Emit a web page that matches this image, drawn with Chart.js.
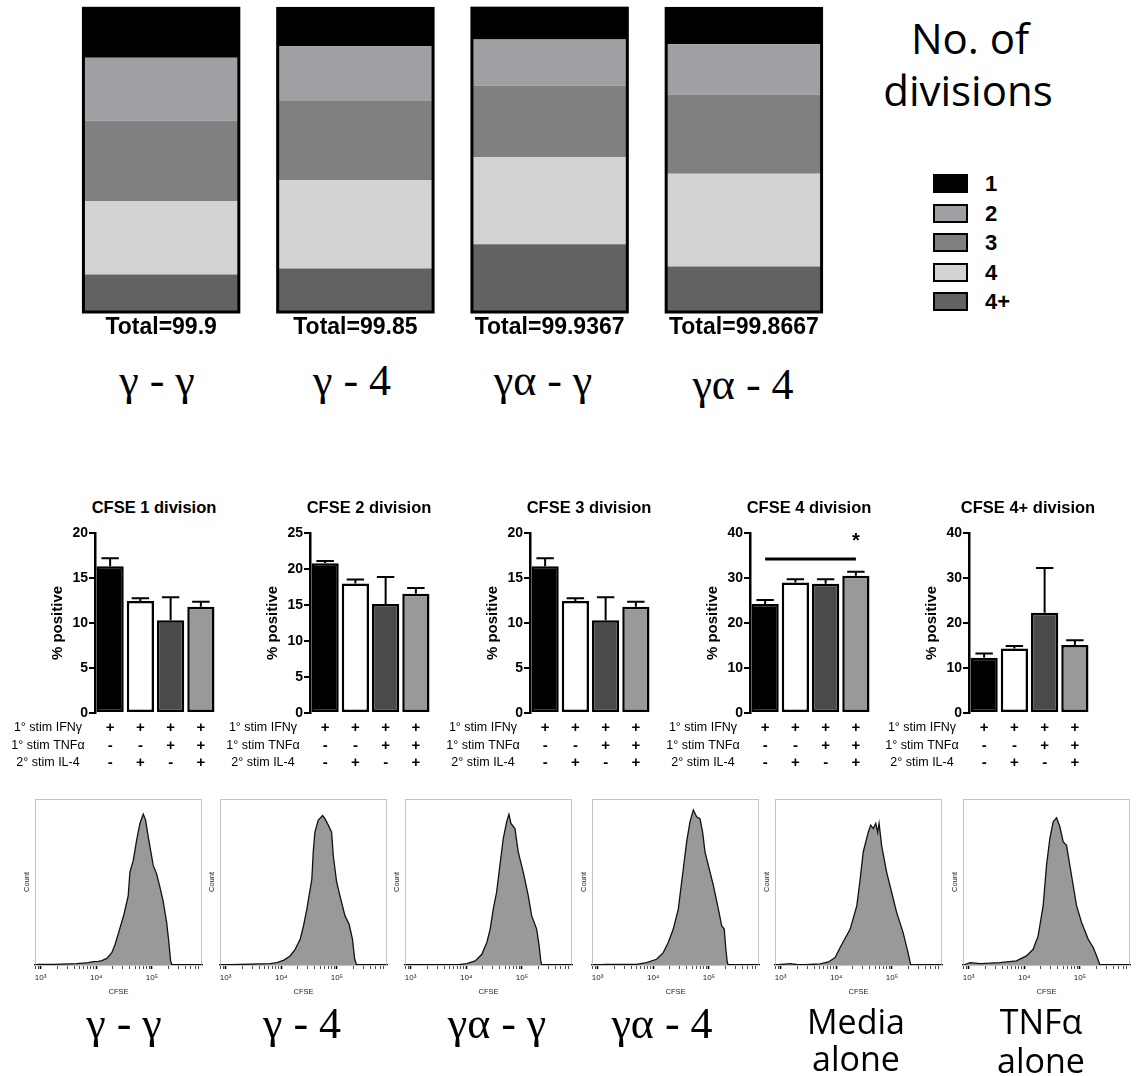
<!DOCTYPE html>
<html><head><meta charset="utf-8">
<script src="https://cdn.jsdelivr.net/npm/chart.js@4.4.1/dist/chart.umd.min.js"></script>
<style>
html,body{margin:0;padding:0;background:#fff;width:1136px;height:1076px;overflow:hidden;}
body{position:relative;font-family:Arial,"Liberation Sans",sans-serif;color:#000;}
canvas{position:absolute;display:block;}
.t{position:absolute;white-space:nowrap;transform:translate(-50%,-50%);line-height:1;}
.greek{font-family:"Liberation Serif","DejaVu Serif",serif;font-size:44px;}
.sans{font-family:"Open Sans",sans-serif;font-size:34px;}
.ttl{font-weight:bold;font-size:16.5px;}
.leg{position:absolute;left:933px;width:31px;height:15px;border:2px solid #000;}
.legt{position:absolute;left:985px;font-weight:bold;font-size:22px;line-height:1;}
</style></head><body>

<canvas id="stack" width="860" height="350" style="left:0;top:0"></canvas>

<div class="t" style="left:970px;top:38px;font-family:'Open Sans',sans-serif;font-size:42px;">No. of</div>
<div class="t" style="left:968px;top:90px;font-family:'Open Sans',sans-serif;font-size:42px;">divisions</div>
<div id="legend"></div>

<div class="t greek" style="left:157px;top:381px;">γ - γ</div>
<div class="t greek" style="left:352px;top:381px;">γ - 4</div>
<div class="t greek" style="left:543px;top:381px;">γα - γ</div>
<div class="t greek" style="left:743px;top:385px;">γα - 4</div>

<canvas id="c1" width="225" height="260"></canvas>
<canvas id="c2" width="225" height="260"></canvas>
<canvas id="c3" width="225" height="260"></canvas>
<canvas id="c4" width="225" height="260"></canvas>
<canvas id="c5" width="225" height="260"></canvas>
<div id="mtitles"></div>

<canvas id="h1" width="190" height="215"></canvas>
<canvas id="h2" width="190" height="215"></canvas>
<canvas id="h3" width="190" height="215"></canvas>
<canvas id="h4" width="190" height="215"></canvas>
<canvas id="h5" width="190" height="215"></canvas>
<canvas id="h6" width="190" height="215"></canvas>

<div class="t greek" style="left:124px;top:1024px;">γ - γ</div>
<div class="t greek" style="left:302px;top:1024px;">γ - 4</div>
<div class="t greek" style="left:497px;top:1024px;">γα - γ</div>
<div class="t greek" style="left:662px;top:1024px;">γα - 4</div>
<div class="t sans" style="left:856px;top:1021px;">Media</div>
<div class="t sans" style="left:856px;top:1058px;">alone</div>
<div class="t sans" style="left:1041px;top:1021px;">TNFα</div>
<div class="t sans" style="left:1041px;top:1060px;">alone</div>

<script>
// ---------- Top: stacked composition ----------
const groups = ['γ - γ', 'γ - 4', 'γα - γ', 'γα - 4'];
const divisionLabels = ['1', '2', '3', '4', '4+'];
const div1 = [16.3, 12.45, 10.3, 11.8];
const div2 = [20.7, 18.0, 15.15, 16.5];
const div3 = [26.4, 26.05, 23.5, 26.05];
const div4 = [24.2, 29.0, 28.7, 30.5];
const div4p = [12.3, 14.35, 22.3, 15.0];
const totals = ['99.9', '99.85', '99.9367', '99.8667'];
const divisionColors = ['#000000', '#a0a0a4', '#808080', '#d3d3d3', '#626262'];

// ---------- Middle: % positive per division ----------
const conditions = ['A', 'B', 'C', 'D'];
const cfse1Mean = [16.3, 12.45, 10.3, 11.8];
const cfse1Err = [0.9, 0.3, 2.55, 0.55];
const cfse2Mean = [20.8, 18.0, 15.15, 16.55];
const cfse2Err = [0.3, 0.55, 3.75, 0.8];
const cfse3Mean = [16.3, 12.45, 10.3, 11.8];
const cfse3Err = [0.9, 0.3, 2.55, 0.55];
const cfse4Mean = [24.2, 29.0, 28.7, 30.5];
const cfse4Err = [0.9, 0.7, 1.0, 0.9];
const cfse4pMean = [12.3, 14.35, 22.3, 15.1];
const cfse4pErr = [0.9, 0.55, 9.9, 1.05];
const ifnRow = ['+', '+', '+', '+'];
const tnfRow = ['-', '-', '+', '+'];
const il4Row = ['-', '+', '-', '+'];
const rowNames = ['1° stim IFNγ', '1° stim TNFα', '2° stim IL-4'];
const barColors = ['#000000', '#ffffff', '#4a4a4a', '#999999'];

// ---------- Bottom: CFSE histograms (x in log10 CFSE, y in % of max) ----------
const histDecades = [3, 4, 5];
const histDecadeLabels = ['10³', '10⁴', '10⁵'];
const hist1X = [2.91, 2.96, 3.23, 3.65, 3.86, 3.95, 4.04, 4.10, 4.19, 4.28, 4.34, 4.43, 4.50, 4.575, 4.605, 4.665, 4.726, 4.785, 4.845, 4.887, 4.934, 5.024, 5.085, 5.144, 5.20, 5.265, 5.305, 5.336, 5.36, 5.89];
const hist1Y = [0, 0.4, 0.4, 0.9, 1.6, 2.2, 2.4, 2.9, 4.4, 8.2, 13.8, 24.9, 33.8, 46, 61.6, 69.3, 82.7, 93.8, 100, 96, 84.9, 66, 60.4, 51.6, 42.7, 28.2, 14.9, 2.7, 0, 0];
const hist2X = [2.91, 3.26, 3.80, 3.92, 4.04, 4.16, 4.25, 4.34, 4.40, 4.46, 4.55, 4.575, 4.605, 4.665, 4.744, 4.785, 4.845, 4.905, 4.934, 4.995, 5.054, 5.144, 5.22, 5.28, 5.32, 5.354, 5.89];
const hist2Y = [0, 0.4, 0.9, 1.6, 3.1, 6, 10.4, 17, 26, 37, 57, 75, 88, 96, 99, 97, 92.7, 88, 72.7, 55, 46, 32.7, 27, 17, 3.8, 0, 0];
const hist3X = [2.91, 3.83, 4.01, 4.16, 4.28, 4.37, 4.43, 4.485, 4.545, 4.605, 4.665, 4.726, 4.767, 4.803, 4.875, 4.934, 5.024, 5.114, 5.175, 5.265, 5.31, 5.336, 5.354, 5.89];
const hist3Y = [0, 0, 0.9, 2.7, 7.1, 14.9, 23.8, 37, 48.2, 66, 83.8, 94.9, 99.8, 93.8, 90.4, 75, 61.6, 46, 32.7, 23.8, 12.7, 3.8, 0, 0];
const hist4X = [2.91, 3.16, 3.70, 3.88, 4.06, 4.18, 4.27, 4.36, 4.45, 4.54, 4.60, 4.66, 4.72, 4.78, 4.84, 4.887, 4.93, 4.99, 5.08, 5.17, 5.23, 5.275, 5.305, 5.33, 5.35, 5.89];
const hist4Y = [0, 0.4, 0.4, 1.6, 3.8, 8.2, 14.9, 23.8, 37, 63.8, 81.6, 94.9, 102.7, 98.2, 97, 88, 75, 66, 52.7, 37, 26, 23.8, 10.4, 1.6, 0, 0];
const hist5X = [2.91, 3.17, 3.35, 3.71, 3.86, 3.98, 4.07, 4.25, 4.37, 4.43, 4.485, 4.575, 4.62, 4.665, 4.71, 4.744, 4.77, 4.815, 4.905, 4.995, 5.085, 5.20, 5.29, 5.336, 5.89];
const hist5Y = [0, 0.9, 0, 0.7, 2, 4.9, 11.6, 23.8, 39.3, 57, 74.9, 88, 92.7, 90.4, 93.8, 88, 93.8, 79.3, 61.6, 48.2, 34.9, 21.6, 8.2, 0.4, 0];
const hist6X = [2.91, 3.03, 3.21, 3.56, 3.86, 4.04, 4.16, 4.25, 4.34, 4.40, 4.46, 4.52, 4.58, 4.64, 4.70, 4.76, 4.85, 4.94, 5.03, 5.15, 5.24, 5.30, 5.36, 5.89];
const hist6Y = [0, 1.6, 0.9, 1.6, 2.7, 6, 10.4, 19.3, 39.3, 66, 83.8, 94.9, 97.6, 91.6, 81.6, 79.3, 59.3, 39.3, 28.2, 17, 11.6, 6, 0, 0];

Chart.defaults.font.family = 'Arial, "Liberation Sans", sans-serif';
Chart.defaults.color = '#000';

// ---- stacked chart ----
const outlinePlugin = {
  id: 'outline',
  afterDatasetsDraw(chart) {
    const ctx = chart.ctx;
    const n = chart.data.datasets.length;
    const bottomMeta = chart.getDatasetMeta(0);
    const topMeta = chart.getDatasetMeta(n - 1);
    ctx.save();
    ctx.strokeStyle = '#000';
    ctx.lineWidth = 3;
    topMeta.data.forEach((el, i) => {
      const t = el.getProps(['x', 'y', 'width'], true);
      const b = bottomMeta.data[i].getProps(['base'], true);
      ctx.strokeRect(t.x - t.width / 2, t.y, t.width, b.base - t.y);
      ctx.fillStyle = '#000';
      ctx.font = 'bold 23px Arial, "Liberation Sans", sans-serif';
      ctx.textAlign = 'center';
      ctx.textBaseline = 'middle';
      ctx.fillText('Total=' + totals[i], t.x, b.base + 16);
    });
    ctx.restore();
  }
};
const stackSeries = [div4p, div4, div3, div2, div1];
const stackNames = ['4+', '4', '3', '2', '1'];
const stackColors = [divisionColors[4], divisionColors[3], divisionColors[2], divisionColors[1], divisionColors[0]];
new Chart(document.getElementById('stack'), {
  type: 'bar',
  data: {
    labels: groups,
    datasets: stackSeries.map((d, k) => ({
      label: stackNames[k], data: d, backgroundColor: stackColors[k], borderWidth: 0,
      barPercentage: 0.8, categoryPercentage: 1.0
    }))
  },
  options: {
    responsive: false, animation: false, devicePixelRatio: 1, events: [],
    layout: { padding: { left: 64, right: 19, top: 8, bottom: 38 } },
    plugins: { legend: { display: false }, tooltip: { enabled: false } },
    scales: {
      x: { stacked: true, display: false },
      y: { stacked: true, display: false, min: 0, max: 100 }
    }
  },
  plugins: [outlinePlugin]
});

// legend (HTML)
(function () {
  const box = document.getElementById('legend');
  const tops = [174, 204, 233, 263, 292];
  divisionLabels.forEach((lab, i) => {
    const sq = document.createElement('div');
    sq.className = 'leg';
    sq.style.top = tops[i] + 'px';
    sq.style.background = divisionColors[i];
    box.appendChild(sq);
    const tx = document.createElement('div');
    tx.className = 'legt';
    tx.style.top = (tops[i] - 1) + 'px';
    tx.textContent = lab;
    box.appendChild(tx);
  });
})();

// ---- middle bar charts ----
const decorPlugin = {
  id: 'decor',
  afterDatasetsDraw(chart, args, opts) {
    const ctx = chart.ctx;
    const meta = chart.getDatasetMeta(0);
    const ys = chart.scales.y;
    const xs = chart.scales.x;
    ctx.save();
    ctx.strokeStyle = '#000';
    ctx.lineWidth = 2;
    meta.data.forEach((el, i) => {
      const p = el.getProps(['x', 'y', 'width'], true);
      const m = opts.mean[i], e = opts.err[i];
      const ye = ys.getPixelForValue(m + e);
      const hw = p.width * 0.32;
      ctx.beginPath();
      ctx.moveTo(p.x, p.y);
      ctx.lineTo(p.x, ye);
      ctx.moveTo(p.x - hw, ye);
      ctx.lineTo(p.x + hw, ye);
      ctx.stroke();
    });
    if (opts.sig) {
      const s = opts.sig;
      const x0 = meta.data[s.from].x, x1 = meta.data[s.to].x;
      const y = ys.getPixelForValue(s.y);
      ctx.lineWidth = 3;
      ctx.beginPath(); ctx.moveTo(x0, y); ctx.lineTo(x1, y); ctx.stroke();
      ctx.fillStyle = '#000';
      ctx.font = 'bold 20px Arial, "Liberation Sans", sans-serif';
      ctx.textAlign = 'center'; ctx.textBaseline = 'middle';
      ctx.fillText('*', x1, ys.getPixelForValue(s.starY));
    }
    // condition table
    const rows = [ifnRow, tnfRow, il4Row];
    const b = chart.chartArea.bottom;
    ctx.textBaseline = 'middle';
    rows.forEach((row, r) => {
      const y = b + 15 + r * 17.5;
      ctx.fillStyle = '#000';
      ctx.font = '12.5px Arial, "Liberation Sans", sans-serif';
      ctx.textAlign = 'center';
      ctx.fillText(rowNames[r], chart.chartArea.left - 47, y);
      ctx.font = 'bold 15px Arial, "Liberation Sans", sans-serif';
      row.forEach((sym, i) => {
        ctx.fillText(sym, xs.getPixelForValue(i), y);
      });
    });
    ctx.restore();
  }
};

function makeBar(id, axisX, title, mean, err, ymax, step, sig) {
  const cv = document.getElementById(id);
  cv.style.left = (axisX - 97) + 'px';
  cv.style.top = '520px';
  const t = document.createElement('div');
  t.className = 't ttl';
  t.style.left = (axisX + 59) + 'px';
  t.style.top = '507px';
  t.textContent = title;
  document.getElementById('mtitles').appendChild(t);
  new Chart(cv, {
    type: 'bar',
    data: {
      labels: conditions,
      datasets: [{
        data: mean, backgroundColor: barColors, borderColor: '#000', borderWidth: 2.5,
        borderSkipped: false, barPercentage: 0.9, categoryPercentage: 1.0
      }]
    },
    options: {
      responsive: false, animation: false, devicePixelRatio: 1, events: [],
      layout: { padding: { left: 50, right: 7, top: 13, bottom: 0 } },
      plugins: { legend: { display: false }, tooltip: { enabled: false },
        decor: { mean: mean, err: err, sig: sig } },
      scales: {
        x: { ticks: { display: false }, grid: { display: false }, border: { display: false },
             afterFit(s) { s.height = 67; } },
        y: {
          min: 0, max: ymax,
          ticks: { stepSize: step, font: { size: 14, weight: 'bold' }, color: '#000', padding: 1 },
          grid: { drawOnChartArea: false, drawTicks: true, tickLength: 6, color: '#000', lineWidth: 2 },
          border: { display: true, color: '#000', width: 2.5 },
          title: { display: true, text: '% positive', font: { size: 15, weight: 'bold' }, color: '#000',
                   padding: { top: 1, bottom: 0 } },
          afterFit(s) { s.width = 47; }
        }
      }
    },
    plugins: [decorPlugin]
  });
}
makeBar('c1', 95, 'CFSE 1 division', cfse1Mean, cfse1Err, 20, 5, null);
makeBar('c2', 310, 'CFSE 2 division', cfse2Mean, cfse2Err, 25, 5, null);
makeBar('c3', 530, 'CFSE 3 division', cfse3Mean, cfse3Err, 20, 5, null);
makeBar('c4', 750, 'CFSE 4 division', cfse4Mean, cfse4Err, 40, 10, { from: 0, to: 3, y: 34.2, starY: 38.2 });
makeBar('c5', 969, 'CFSE 4+ division', cfse4pMean, cfse4pErr, 40, 10, null);

// ---- histograms ----
const framePlugin = {
  id: 'frame',
  beforeDatasetsDraw(chart) {
    const a = chart.chartArea, ctx = chart.ctx;
    ctx.save();
    ctx.strokeStyle = '#c4c4c4';
    ctx.lineWidth = 1;
    ctx.strokeRect(a.left + 0.5, a.top + 0.5, a.right - a.left - 1, a.bottom - a.top);
    ctx.restore();
  }
};
function isMajor(v) { return Math.abs(v - Math.round(v)) < 1e-6; }
function makeHist(id, panelLeft, xs, ys) {
  const cv = document.getElementById(id);
  cv.style.left = (panelLeft - 20) + 'px';
  cv.style.top = '790px';
  new Chart(cv, {
    type: 'line',
    data: {
      datasets: [{
        data: xs.map((x, i) => ({ x: x, y: ys[i] })),
        fill: 'origin', backgroundColor: '#999999', borderColor: '#111', borderWidth: 1.3,
        pointRadius: 0, tension: 0
      }]
    },
    options: {
      responsive: false, animation: false, devicePixelRatio: 1, events: [],
      layout: { padding: { left: 0, right: 3, top: 9, bottom: 0 } },
      plugins: { legend: { display: false }, tooltip: { enabled: false } },
      scales: {
        x: {
          type: 'linear', min: 2.9, max: 5.9,
          afterBuildTicks(s) {
            const t = [];
            for (let n = 2; n <= 5; n++) for (let k = 1; k <= 9; k++) {
              const v = n + Math.log10(k);
              if (v >= s.min && v <= s.max) t.push({ value: v });
            }
            s.ticks = t;
          },
          ticks: {
            autoSkip: false, maxRotation: 0, minRotation: 0, padding: 4,
            font: { size: 8 }, color: '#222',
            callback(v) {
              if (!isMajor(v)) return '';
              const idx = histDecades.indexOf(Math.round(v));
              return idx >= 0 ? histDecadeLabels[idx] : '';
            }
          },
          grid: {
            drawOnChartArea: false, drawTicks: true, tickLength: 4, color: '#000',
            tickWidth: (c) => (c.tick && isMajor(c.tick.value)) ? 1.6 : 0.7
          },
          border: { display: true, color: '#000', width: 1.2 },
          title: { display: true, text: 'CFSE', font: { size: 7.5 }, color: '#222', padding: { top: 2, bottom: 9 } },
          afterFit(s) { s.height = 40; }
        },
        y: {
          min: 0, max: 110,
          ticks: { display: false },
          grid: { display: false },
          border: { display: true, color: '#c4c4c4', width: 1 },
          title: { display: true, text: 'Count', font: { size: 7.5 }, color: '#222', padding: { top: 7, bottom: 0 } },
          afterFit(s) { s.width = 20; }
        }
      }
    },
    plugins: [framePlugin]
  });
}
makeHist('h1', 35, hist1X, hist1Y);
makeHist('h2', 220, hist2X, hist2Y);
makeHist('h3', 405, hist3X, hist3Y);
makeHist('h4', 592, hist4X, hist4Y);
makeHist('h5', 775, hist5X, hist5Y);
makeHist('h6', 963, hist6X, hist6Y);
</script>
</body></html>
